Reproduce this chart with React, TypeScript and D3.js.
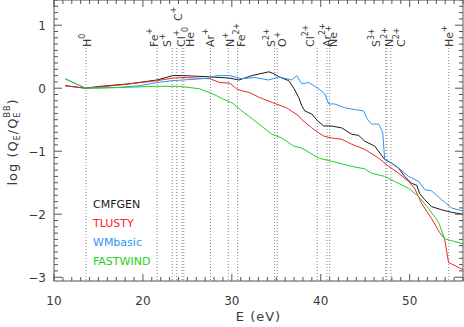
import React from 'react';
import * as d3 from 'd3';

// ionisation edges marked on the plot
const ionNames = ['H', 'Fe', 'S', 'Cl', 'C', 'He', 'Ar', 'N', 'Fe', 'S', 'O', 'Cl', 'Ar', 'Ne', 'S', 'N', 'C', 'He'];
const ionCharges = ['0', '+', '+', '+', '+', '0', '+', '+', '2+', '2+', '+', '2+', '2+', '+', '3+', '2+', '2+', '+'];
const ionEnergies = [13.6, 21.6, 23.3, 23.8, 24.4, 24.6, 27.6, 29.6, 30.65, 34.8, 35.1, 39.6, 40.7, 41.0, 47.3, 47.45, 47.9, 54.4];

const modelNames = ['CMFGEN', 'TLUSTY', 'WMbasic', 'FASTWIND'];

const cmfgenE = [11.24, 13.56, 15.2, 18.5, 21.57, 23.37, 24.49, 27.53, 29.78, 30.79, 32.25, 34.16, 34.72, 35.28, 36.4, 36.97, 37.53, 37.87, 38.2, 38.99, 39.66, 40.34, 41.24, 42.36, 43.48, 44.27, 44.94, 46.07, 47.19, 47.98, 48.76, 49.44, 50.22, 50.79, 51.12, 51.69, 52.47, 53.6, 54.72, 56];
const cmfgenQ = [0.04, 0.0, 0.03, 0.07, 0.13, 0.2, 0.2, 0.18, 0.16, 0.13, 0.2, 0.26, 0.23, 0.18, 0.12, 0.0, -0.15, -0.28, -0.36, -0.41, -0.52, -0.6, -0.6, -0.63, -0.73, -0.75, -0.84, -0.92, -1.13, -1.19, -1.27, -1.4, -1.51, -1.54, -1.67, -1.77, -1.88, -1.93, -1.97, -2.0];

const tlustyE = [11.24, 13.56, 17.4, 21.57, 23.37, 24.49, 27.53, 28.65, 29.78, 30.53, 31.12, 32.02, 33.15, 34.6, 36.15, 37.53, 37.87, 38.99, 39.78, 40.34, 41.24, 42.36, 43.48, 44.94, 46.52, 47.64, 48.76, 49.89, 50.56, 51.35, 52.47, 53.37, 53.93, 54.38, 54.72, 56];
const tlustyQ = [0.04, 0.0, 0.05, 0.12, 0.16, 0.17, 0.15, 0.09, 0.08, -0.01, -0.04, -0.07, -0.15, -0.23, -0.31, -0.44, -0.5, -0.63, -0.71, -0.76, -0.79, -0.81, -0.89, -0.97, -1.11, -1.24, -1.35, -1.48, -1.59, -1.83, -2.07, -2.29, -2.39, -2.77, -2.79, -2.88];

const wmbasicE = [11.24, 13.56, 17.08, 19.66, 21.57, 23.37, 24.49, 27.53, 28.31, 29.78, 31.12, 32.58, 34.16, 35.28, 36.74, 37.3, 37.87, 38.65, 39.78, 40.45, 40.9, 41.57, 42.7, 43.82, 44.83, 45.17, 45.39, 45.73, 46.52, 46.97, 47.19, 47.64, 48.76, 49.89, 51.01, 51.69, 52.47, 53.6, 54.72, 56];
const wmbasicQ = [0.15, 0.0, 0.01, 0.04, 0.09, 0.12, 0.13, 0.16, 0.2, 0.2, 0.15, 0.17, 0.13, 0.18, 0.13, 0.2, 0.07, 0.09, -0.01, -0.09, -0.25, -0.25, -0.31, -0.34, -0.36, -0.47, -0.52, -0.57, -0.57, -0.7, -1.13, -1.16, -1.27, -1.4, -1.48, -1.61, -1.63, -1.77, -1.9, -1.95];

const fastwindE = [11.24, 13.56, 17.08, 21.57, 24.16, 26.4, 27.87, 28.99, 30.11, 31.12, 32.6, 34.49, 35.62, 36.97, 37.87, 39.78, 41.24, 43.48, 44.94, 45.73, 47.19, 48.31, 49.89, 51.01, 52.13, 53.26, 53.93, 54.72, 56];
const fastwindQ = [0.15, 0.0, 0.01, 0.03, 0.03, -0.01, -0.09, -0.17, -0.24, -0.36, -0.52, -0.73, -0.79, -0.92, -0.95, -1.11, -1.16, -1.24, -1.28, -1.35, -1.4, -1.48, -1.59, -1.72, -1.91, -2.13, -2.39, -2.42, -2.47];

const xTicks = [10, 20, 30, 40, 50];
const yTicks = [-3, -2, -1, 0, 1];

const W = 464;
const H = 327;
const plot = { left: 54, right: 463, top: 0, bottom: 281 };
const colors = ['#1a1a1a', '#f02828', '#2c96ee', '#22d022'];
const font = 'DejaVu Sans, sans-serif';
const ink = '#3a3a3a';

// horizontal nudges of the ion labels so they do not collide
const labelNudge = [1, -3, -5, 4, -4, 6, 0, 1.5, 3, -4, 5, -7, 0, 3, -10, 2.5, 10, 0];

const App = () => {
  const x = d3.scaleLinear().domain([10, 56]).range([plot.left, plot.right]);
  const y = d3.scaleLinear().domain([-3.06, 1.4]).range([plot.bottom, plot.top]);

  const line = d3.line<[number, number]>()
    .x(d => x(d[0]))
    .y(d => y(d[1]));

  const series = [
    [cmfgenE, cmfgenQ],
    [tlustyE, tlustyQ],
    [wmbasicE, wmbasicQ],
    [fastwindE, fastwindQ],
  ].map(([e, q]) => e.map((v, i) => [v, q[i]] as [number, number]));

  const xMinor = d3.range(10, 57, 1);
  const yMinor = d3.range(-30, 15, 1).map(v => v / 10);

  return (
    <svg width={W} height={H} style={{ position: 'absolute', left: 0, top: 0, background: '#fff' }} fontFamily={font}>
      <defs>
        <clipPath id="plotclip">
          <rect x={plot.left} y={plot.top} width={plot.right - plot.left} height={plot.bottom - plot.top} />
        </clipPath>
      </defs>

      {/* ionisation edges */}
      {ionEnergies.map((e, i) => (
        <line key={'v' + i} x1={x(e)} x2={x(e)} y1={48} y2={plot.bottom}
          stroke="#8a8a8a" strokeWidth={1} strokeDasharray="1,2" />
      ))}
      {ionNames.map((n, i) => {
        const cx = x(ionEnergies[i]) + labelNudge[i];
        const by = n === 'C' && ionCharges[i] === '+' ? 21 : 47;
        return (
          <text key={'l' + i} transform={`translate(${cx},${by}) rotate(-90)`} y={4}
            fontSize={11} fill={ink}>
            {n}
            <tspan fontSize={8} dy={-6}>{ionCharges[i]}</tspan>
          </text>
        );
      })}

      {/* curves */}
      <g clipPath="url(#plotclip)">
        {series.map((s, i) => (
          <path key={'c' + i} d={line(s) || ''} fill="none" stroke={colors[i]} strokeWidth={1} />
        ))}
      </g>

      {/* frame and ticks */}
      <rect x={plot.left} y={plot.top} width={plot.right - plot.left} height={plot.bottom - plot.top}
        fill="none" stroke="#555" strokeWidth={1} />
      {xMinor.map(v => {
        const len = v % 10 === 0 ? 7 : 4;
        return (
          <g key={'xt' + v} stroke="#555">
            <line x1={x(v)} x2={x(v)} y1={plot.bottom} y2={plot.bottom - len} />
            <line x1={x(v)} x2={x(v)} y1={plot.top} y2={plot.top + len} />
          </g>
        );
      })}
      {yMinor.map(v => {
        const len = Math.abs(v - Math.round(v)) < 1e-6 ? 8 : 4;
        return (
          <g key={'yt' + v} stroke="#555">
            <line x1={plot.left} x2={plot.left + len} y1={y(v)} y2={y(v)} />
            <line x1={plot.right} x2={plot.right - len} y1={y(v)} y2={y(v)} />
          </g>
        );
      })}

      {xTicks.map(v => (
        <text key={'xl' + v} x={x(v)} y={305} textAnchor="middle" fontSize={12} fill={ink}>{v}</text>
      ))}
      {yTicks.map(v => (
        <text key={'yl' + v} x={46} y={y(v) + 4.5} textAnchor="end" fontSize={12} fill={ink}>
          {v < 0 ? '\u2212' + Math.abs(v) : v}
        </text>
      ))}

      <text x={(plot.left + plot.right) / 2} y={321} textAnchor="middle" fontSize={13} fill={ink} letterSpacing={1}>E (eV)</text>
      <text transform={`translate(17,${142}) rotate(-90)`} textAnchor="middle" fontSize={13} fill={ink} letterSpacing={1}>
        log (Q<tspan fontSize={8} dy={3}>E</tspan><tspan dy={-3}>/Q</tspan><tspan fontSize={8} dy={3}>E</tspan><tspan fontSize={8} dx={-6} dy={-10}>BB</tspan><tspan dy={7}>)</tspan>
      </text>

      {/* legend */}
      {modelNames.map((n, i) => (
        <text key={'lg' + i} x={93} y={208 + i * 19} fontSize={11} fill={colors[i]}>{n}</text>
      ))}
    </svg>
  );
};

export default App;
